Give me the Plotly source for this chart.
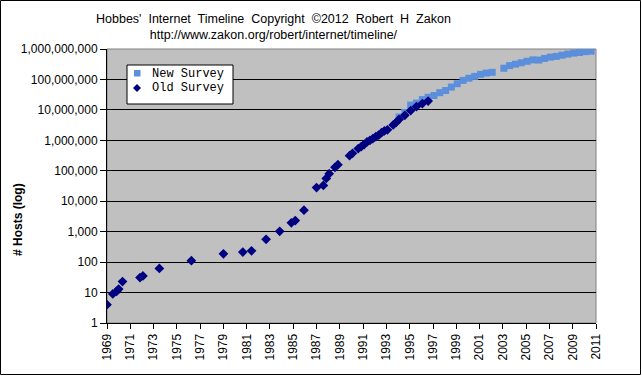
import plotly.graph_objects as go

# ---- data ----
old_dates = ["1969-12", "1970-06", "1970-10", "1970-12", "1971-04", "1972-10", "1973-01",
             "1974-06", "1977-03", "1979-12", "1981-08", "1982-05", "1983-08", "1984-10",
             "1985-10", "1986-02", "1986-11", "1987-12", "1988-07", "1988-10", "1989-01",
             "1989-07", "1989-10", "1990-10", "1991-01", "1991-07", "1991-10", "1992-01",
             "1992-04", "1992-07", "1992-10", "1993-01", "1993-04", "1993-07", "1993-10",
             "1994-01", "1994-07", "1994-10", "1995-01", "1995-07", "1996-01", "1996-07",
             "1997-01", "1997-07"]
old_hosts = [4, 9, 11, 13, 23, 31, 35, 62, 111, 188, 213, 235, 562, 1024, 1961, 2308, 5089,
             28174, 33000, 56000, 80000, 130000, 159000, 313000, 376000, 535000, 617000,
             727000, 890000, 992000, 1136000, 1313000, 1486000, 1776000, 2056000, 2217000,
             3212000, 3864000, 4852000, 6642000, 9472000, 12881000, 16146000, 19540000]

new_dates = ["1995-01", "1995-07", "1996-01", "1996-07", "1997-01", "1997-07", "1998-01",
             "1998-07", "1999-01", "1999-07", "2000-01", "2000-07", "2001-01", "2001-07",
             "2002-01", "2002-07", "2003-01", "2004-01", "2004-07", "2005-01", "2005-07",
             "2006-01", "2006-07", "2007-01", "2007-07", "2008-01", "2008-07", "2009-01",
             "2009-07", "2010-01", "2010-07", "2011-01", "2011-07"]
new_hosts = [5846000, 8200000, 14352000, 16729000, 21819000, 26053000, 29670000, 36739000,
             43230000, 56218000, 72398092, 93047785, 109574429, 125888197, 147344723,
             162128493, 171638297, 233101481, 285139107, 317646084, 353284187, 394991609,
             439286364, 433193199, 489774269, 541677360, 570937778, 625226456, 681064561,
             732740444, 768913036, 818374269, 849869781]

x_tick_labels = ["1969", "1971", "1973", "1975", "1977", "1979", "1981", "1983", "1985",
                 "1987", "1989", "1991", "1993", "1995", "1997", "1999", "2001", "2003",
                 "2005", "2007", "2009", "2011"]
y_tick_values = [1, 10, 100, 1000, 10000, 100000, 1000000, 10000000, 100000000, 1000000000]

series_names = ["New Survey", "Old Survey"]
title_lines = ["Hobbes'  Internet  Timeline  Copyright  \u00a92012  Robert  H  Zakon",
               "http://www.zakon.org/robert/internet/timeline/"]
y_title = "# Hosts (log)"

# ---- layout constants ----
W, H = 642, 376
ML, MR, MT, MB = 107, 46, 49, 53
PW, PH = W - ML - MR, H - MT - MB
FONT = "Liberation Sans, Arial, sans-serif"
MONO = "Liberation Mono, Courier New, monospace"
NEW_COLOR, OLD_COLOR = "#5B8FDB", "#000080"


def px(x):
    return (x - ML) / PW


def py(y):
    return (MT + PH - y) / PH


fig = go.Figure()
fig.add_trace(go.Scatter(
    x=new_dates, y=new_hosts, mode="markers", name=series_names[0],
    marker=dict(symbol="square", size=7, color=NEW_COLOR, line=dict(width=0)),
))
fig.add_trace(go.Scatter(
    x=old_dates, y=old_hosts, mode="markers", name=series_names[1],
    marker=dict(symbol="diamond", size=7.5, color=OLD_COLOR, line=dict(width=0)),
))

tick_pos = [f"{t}-12-01" for t in x_tick_labels]

# legend drawn by hand (Excel-like compact box)
lx0, lx1, ly0, ly1 = 127, 233, 65, 104
legend_shapes = [
    dict(type="rect", xref="paper", yref="paper",
         x0=px(lx0), x1=px(lx1), y0=py(ly1), y1=py(ly0),
         line=dict(color="black", width=1), fillcolor="white", layer="above"),
    dict(type="rect", xref="paper", yref="paper",
         x0=px(134), x1=px(140.5), y0=py(76.5), y1=py(70),
         line=dict(width=0), fillcolor=NEW_COLOR, layer="above"),
    dict(type="path", xref="paper", yref="paper",
         path=(f"M {px(137)} {py(84)} L {px(141)} {py(88)} "
               f"L {px(137)} {py(92)} L {px(133)} {py(88)} Z"),
         line=dict(width=0), fillcolor=OLD_COLOR, layer="above"),
]
legend_texts = [
    dict(text=series_names[0], xref="paper", yref="paper", x=px(150), y=py(73.5),
         xanchor="left", yanchor="middle", showarrow=False,
         font=dict(family=MONO, size=12, color="black")),
    dict(text=series_names[1], xref="paper", yref="paper", x=px(150), y=py(87.5),
         xanchor="left", yanchor="middle", showarrow=False,
         font=dict(family=MONO, size=12, color="black")),
]

fig.update_layout(
    width=W, height=H,
    margin=dict(l=ML, r=MR, t=MT, b=MB, pad=0),
    paper_bgcolor="white",
    plot_bgcolor="#C0C0C0",
    font=dict(family=FONT, size=12, color="black"),
    showlegend=False,
    xaxis=dict(
        type="date",
        range=[tick_pos[0], tick_pos[-1]],
        tickvals=tick_pos, ticktext=x_tick_labels,
        tickangle=-90,
        showgrid=False, zeroline=False,
        showline=True, linecolor="black", linewidth=1,
        ticks="outside", ticklen=5, tickcolor="black",
        tickfont=dict(family=FONT, size=12, color="black"),
    ),
    yaxis=dict(
        type="log", range=[0, 9],
        tickvals=y_tick_values, ticktext=[f"{v:,}" for v in y_tick_values],
        showgrid=True, gridcolor="black", gridwidth=1,
        zeroline=False,
        showline=True, linecolor="black", linewidth=1,
        ticks="outside", ticklen=6, tickcolor="black",
        tickfont=dict(family=FONT, size=12, color="black"),
    ),
    shapes=[
        # plot area border (gray)
        dict(type="rect", xref="paper", yref="paper", x0=0, x1=1, y0=0, y1=1,
             line=dict(color="#808080", width=1), layer="between"),
        # outer chart border
        dict(type="rect", xref="paper", yref="paper",
             x0=px(0.5), x1=px(W - 1.5), y0=py(H - 1.5), y1=py(0.5),
             line=dict(color="black", width=1)),
    ] + legend_shapes,
    annotations=[
        dict(text="<br>".join(title_lines), xref="paper", yref="paper",
             x=px(273), y=py(27), xanchor="center", yanchor="middle",
             showarrow=False, font=dict(family=FONT, size=12.5, color="black")),
        dict(text=f"<b>{y_title}</b>", xref="paper", yref="paper",
             x=px(18), y=py(220), xanchor="center", yanchor="middle",
             textangle=-90, showarrow=False, font=dict(family=FONT, size=12, color="black")),
    ] + legend_texts,
)

fig.write_html("out.html", config={"displayModeBar": False},
               post_script="document.body.style.margin='0';")
